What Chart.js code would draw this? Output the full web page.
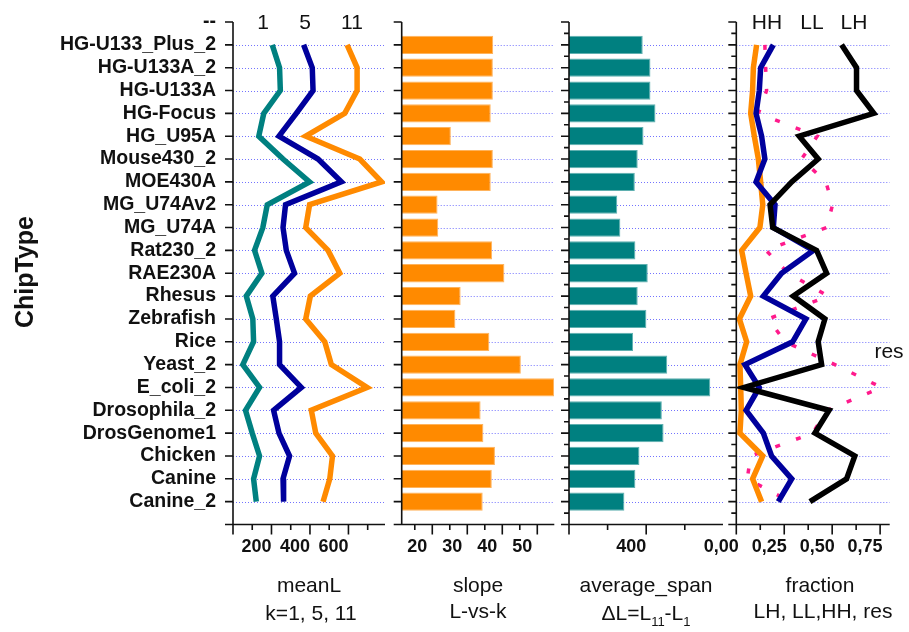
<!DOCTYPE html>
<html>
<head>
<meta charset="utf-8">
<script src="https://cdn.jsdelivr.net/npm/chart.js@4.4.1/dist/chart.umd.min.js"></script>
<style>
  body { margin: 0; background: #fff; }
  #wrap { position: relative; width: 909px; height: 632px; }
  #wrap canvas { position: absolute; left: 0; top: 0; }
</style>
</head>
<body>
<div id="wrap">
  <canvas id="c1" width="909" height="632"></canvas>
  <canvas id="c2" width="909" height="632"></canvas>
  <canvas id="c3" width="909" height="632"></canvas>
  <canvas id="c4" width="909" height="632"></canvas>
</div>
<script>
// data, top row first
const chipTypes = ['HG-U133_Plus_2', 'HG-U133A_2', 'HG-U133A', 'HG-Focus', 'HG_U95A', 'Mouse430_2',
  'MOE430A', 'MG_U74Av2', 'MG_U74A', 'Rat230_2', 'RAE230A', 'Rhesus', 'Zebrafish', 'Rice',
  'Yeast_2', 'E_coli_2', 'Drosophila_2', 'DrosGenome1', 'Chicken', 'Canine', 'Canine_2'];

const meanL1  = [204, 242, 246, 160, 134, 260, 398, 178, 155, 112, 150, 69, 103, 107, 51, 138, 65, 100, 138, 107, 121];
const meanL5  = [367, 412, 416, 329, 239, 442, 563, 273, 260, 277, 320, 207, 225, 242, 242, 355, 211, 239, 294, 260, 263];
const meanL11 = [593, 645, 645, 581, 378, 659, 772, 398, 378, 494, 555, 402, 378, 477, 511, 697, 407, 430, 517, 503, 468];

const slope = [37.4, 37.3, 37.3, 36.7, 25.3, 37.3, 36.7, 21.5, 21.7, 37.1, 40.6, 28.1, 26.6, 36.3, 45.3, 54.8, 33.8, 34.6, 37.9, 37.0, 34.4];

const avgSpan = [382, 422, 422, 448, 386, 356, 341, 250, 266, 344, 408, 356, 401, 332, 509, 732, 481, 490, 365, 344, 287];

const fracHH  = [0.106, 0.089, 0.085, 0.075, 0.094, 0.115, 0.127, 0.138, 0.123, 0.028, 0.051, 0.075, 0.016, 0.054, 0.019, 0.023, 0.026, 0.019, 0.138, 0.085, 0.132];
const fracLL  = [0.193, 0.127, 0.120, 0.103, 0.132, 0.149, 0.103, 0.202, 0.193, 0.401, 0.236, 0.141, 0.363, 0.294, 0.045, 0.120, 0.051, 0.141, 0.184, 0.289, 0.219];
const fracLH  = [0.549, 0.627, 0.627, 0.717, 0.328, 0.427, 0.289, 0.176, 0.190, 0.419, 0.471, 0.297, 0.462, 0.427, 0.445, 0.040, 0.484, 0.410, 0.618, 0.575, 0.384];
const fracRes = [0.149, 0.153, 0.158, 0.115, 0.422, 0.340, 0.467, 0.502, 0.471, 0.155, 0.271, 0.479, 0.167, 0.254, 0.514, 0.757, 0.474, 0.398, 0.075, 0.057, 0.280];

// x tick positions (major and minor) of each panel
const meanLTicks = [0, 100, 200, 300, 400, 500, 600, 700];
const slopeTicks = [15, 20, 25, 30, 35, 40, 45, 50];
const spanTicks  = [0, 200, 400, 600];
const fracTicks  = [0, 0.125, 0.25, 0.375, 0.5, 0.625, 0.75];

// y categories: a "--" row on top and an empty row at the bottom
const rowLabels = ['--', ...chipTypes, ''];
const pad = arr => [null, ...arr, null];

const FONT = 'Liberation Sans, Arial, sans-serif';
const TEAL = '#008080', NAVY = '#00009c', ORANGE = '#ff8a00', PINK = '#ff1a8c';

const isMult = (v, step) => Math.abs(v / step - Math.round(v / step)) < 1e-6;

// dotted row lines, axes, tick marks and texts
const panelDeco = {
  id: 'panelDeco',
  beforeDatasetsDraw(chart, args, o) {
    const {ctx, chartArea: a, scales: {y}} = chart;
    ctx.save();
    ctx.strokeStyle = 'rgba(90,90,255,0.85)';
    ctx.lineWidth = 1;
    ctx.setLineDash([1, 2]);
    for (let i = 1; i < rowLabels.length - 1; i++) {
      const py = Math.round(y.getPixelForTick(i)) + 0.5;
      ctx.beginPath();
      ctx.moveTo(a.left, py);
      ctx.lineTo(a.right, py);
      ctx.stroke();
    }
    ctx.restore();
  },
  afterDraw(chart, args, o) {
    const {ctx, chartArea: a, scales: {x, y}} = chart;
    ctx.save();
    ctx.strokeStyle = '#111';
    ctx.lineWidth = 1.6;
    ctx.beginPath();
    ctx.moveTo(a.left, a.top);
    ctx.lineTo(a.left, a.bottom);
    ctx.lineTo(a.right, a.bottom);
    // y ticks
    for (let i = 0; i < rowLabels.length; i++) {
      const py = y.getPixelForTick(i);
      ctx.moveTo(a.left - 8, py);
      ctx.lineTo(a.left, py);
      if (o.minorY && i < rowLabels.length - 1) {
        const pm = (py + y.getPixelForTick(i + 1)) / 2;
        ctx.moveTo(a.left - 5, pm);
        ctx.lineTo(a.left, pm);
      }
    }
    // x ticks
    x.ticks.forEach(t => {
      const px = x.getPixelForValue(t.value);
      ctx.moveTo(px, a.bottom);
      ctx.lineTo(px, a.bottom + (isMult(t.value, o.major) ? 10 : 5.5));
    });
    ctx.stroke();

    ctx.fillStyle = '#111';
    ctx.textBaseline = 'alphabetic';
    (o.texts || []).forEach(t => {
      ctx.font = t.font;
      ctx.textAlign = t.align || 'center';
      ctx.fillText(t.t, t.x, t.y);
    });
    if (o.subTitle) {
      // ΔL=L11-L1 with subscripts
      const big = '21px ' + FONT, small = '13px ' + FONT;
      const parts = [['ΔL=L', big, 0], ['11', small, 6], ['-L', big, 0], ['1', small, 6]];
      let w = 0;
      parts.forEach(p => { ctx.font = p[1]; w += ctx.measureText(p[0]).width; });
      let cx = o.subTitle.x - w / 2;
      ctx.textAlign = 'left';
      parts.forEach(p => {
        ctx.font = p[1];
        ctx.fillText(p[0], cx, o.subTitle.y + p[2]);
        cx += ctx.measureText(p[0]).width;
      });
    }
    if (o.yTitle) {
      ctx.font = 'bold 25px ' + FONT;
      ctx.textAlign = 'center';
      ctx.translate(o.yTitle.x, o.yTitle.y);
      ctx.rotate(-Math.PI / 2);
      ctx.fillText('ChipType', 0, 0);
    }
    ctx.restore();
  }
};

function makePanel(id, p) {
  return new Chart(document.getElementById(id), {
    type: p.type,
    data: { labels: rowLabels, datasets: p.datasets },
    plugins: [panelDeco],
    options: {
      responsive: false,
      animation: false,
      indexAxis: 'y',
      layout: { padding: { top: 22, right: 909 - p.right, left: 0, bottom: 0 } },
      plugins: {
        legend: { display: false },
        tooltip: { enabled: false },
        panelDeco: p.deco
      },
      scales: {
        y: {
          type: 'category',
          offset: false,
          grid: { display: false, drawTicks: false },
          border: { display: false },
          ticks: {
            display: !!p.showLabels,
            autoSkip: false,
            padding: 17,
            color: '#111',
            font: { family: FONT, size: 19.5, weight: 'bold' }
          },
          afterFit: s => { s.width = p.left; s.paddingTop = 0; s.paddingBottom = 0; }
        },
        x: {
          type: 'linear',
          min: p.min,
          max: p.max,
          grid: { display: false, drawTicks: false },
          border: { display: false },
          afterBuildTicks: s => { s.ticks = p.ticks.map(v => ({ value: v })); },
          ticks: {
            autoSkip: false,
            maxRotation: 0,
            labelOffset: -15,
            padding: 12,
            color: '#111',
            font: { family: FONT, size: 18, weight: 'bold' },
            callback: p.label
          },
          afterFit: s => { s.height = 632 - 524.5; s.paddingLeft = 0; s.paddingRight = 0; }
        }
      }
    }
  });
}

const lineDs = (data, color, extra) => Object.assign({
  data: pad(data), borderColor: color, backgroundColor: color, borderWidth: 5.5,
  pointRadius: 0, tension: 0, fill: false
}, extra || {});

const titleFont = '21px ' + FONT;
const markFont = '21px ' + FONT;

// meanL, k = 1, 5, 11
makePanel('c1', {
  type: 'line', left: 233, right: 385, min: 0, max: 790, ticks: meanLTicks,
  showLabels: true,
  label: v => (v > 0 && isMult(v, 200)) ? String(v) : '',
  datasets: [lineDs(meanL1, TEAL), lineDs(meanL5, NAVY), lineDs(meanL11, ORANGE)],
  deco: {
    major: 200,
    yTitle: { x: 33, y: 272 },
    texts: [
      { t: '1', x: 263, y: 29, font: markFont },
      { t: '5', x: 305, y: 29, font: markFont },
      { t: '11', x: 352, y: 29, font: markFont },
      { t: 'meanL', x: 309, y: 592, font: titleFont },
      { t: 'k=1, 5, 11', x: 311, y: 620, font: titleFont }
    ]
  }
});

// slope of L vs k
makePanel('c2', {
  type: 'bar', left: 401.7, right: 554.3, min: 11.26, max: 54.86, ticks: slopeTicks,
  label: v => isMult(v, 10) ? String(v) : '',
  datasets: [{
    data: pad(slope), backgroundColor: ORANGE, borderColor: '#ffb35c', borderWidth: 1,
    barPercentage: 0.8, categoryPercentage: 1
  }],
  deco: {
    major: 10,
    texts: [
      { t: 'slope', x: 478, y: 592, font: titleFont },
      { t: 'L-vs-k', x: 478, y: 618, font: titleFont }
    ]
  }
});

// average span
makePanel('c3', {
  type: 'bar', left: 569, right: 723, min: 0, max: 798, ticks: spanTicks,
  label: v => v === 400 ? '400' : '',
  datasets: [{
    data: pad(avgSpan), backgroundColor: TEAL, borderColor: '#5fb0b0', borderWidth: 1,
    barPercentage: 0.8, categoryPercentage: 1
  }],
  deco: {
    major: 400,
    minorY: true,
    subTitle: { x: 646, y: 620 },
    texts: [
      { t: 'average_span', x: 646, y: 592, font: titleFont }
    ]
  }
});

// fractions LH, LL, HH, res
makePanel('c4', {
  type: 'line', left: 736.3, right: 889.7, min: 0, max: 0.8, ticks: fracTicks,
  label: v => isMult(v, 0.25) ? v.toFixed(2).replace('.', ',') : '',
  datasets: [
    lineDs(fracLH, '#000'),
    lineDs(fracLL, NAVY),
    lineDs(fracHH, ORANGE),
    lineDs(fracRes, PINK, { borderWidth: 3.5, borderDash: [5, 17], borderCapStyle: 'butt' })
  ],
  deco: {
    major: 0.25,
    minorY: true,
    texts: [
      { t: 'HH', x: 767, y: 29, font: markFont },
      { t: 'LL', x: 812, y: 29, font: markFont },
      { t: 'LH', x: 854, y: 29, font: markFont },
      { t: 'res', x: 889, y: 358, font: markFont },
      { t: 'fraction', x: 820, y: 592, font: titleFont },
      { t: 'LH, LL,HH, res', x: 823, y: 618, font: titleFont }
    ]
  }
});
</script>
</body>
</html>
